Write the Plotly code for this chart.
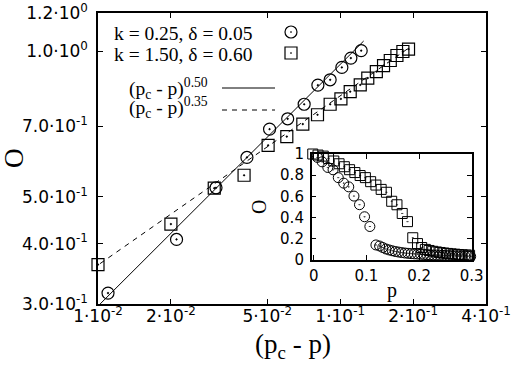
import plotly.graph_objects as go

# ---------------- data ----------------
# main plot: O versus (p_c - p)
circ_x = [0.0110, 0.0211, 0.0307, 0.0412, 0.0511, 0.0607, 0.0710, 0.0809, 0.0909, 0.1016, 0.1107, 0.1221]
circ_y = [0.316, 0.408, 0.522, 0.603, 0.690, 0.725, 0.777, 0.851, 0.873, 0.926, 0.968, 1.003]

sq_x = [0.0100, 0.0200, 0.0302, 0.0401, 0.0504, 0.0602, 0.0701, 0.0806, 0.0909, 0.1007,
        0.1100, 0.1210, 0.1300, 0.1410, 0.1510, 0.1610, 0.1715, 0.1815, 0.1915]
sq_y = [0.362, 0.439, 0.521, 0.554, 0.639, 0.666, 0.707, 0.739, 0.777, 0.797,
        0.825, 0.852, 0.880, 0.908, 0.934, 0.957, 0.980, 0.999, 1.010]

# fitted power laws (exponents from the legend)
fit1_amp, fit1_exp, fit1_range = 2.97, 0.50, [0.0102, 0.125]
fit2_amp, fit2_exp, fit2_range = 1.81, 0.35, [0.0102, 0.195]

# inset: O versus p
in_circ_p = [-0.0046, 0.0068, 0.0159, 0.0266, 0.0366, 0.0465, 0.0568, 0.0664, 0.0763, 0.0868, 0.0964, 0.1065,
             0.118, 0.125, 0.131, 0.137, 0.143, 0.149, 0.155, 0.161, 0.167, 0.173, 0.179, 0.185, 0.191,
             0.197, 0.203, 0.209, 0.215, 0.221, 0.227, 0.233, 0.239, 0.245, 0.251, 0.257, 0.263, 0.269,
             0.275, 0.281, 0.287, 0.293, 0.298]
in_circ_o = [1.0, 0.968, 0.926, 0.873, 0.851, 0.777, 0.725, 0.690, 0.603, 0.522, 0.408, 0.316,
             0.142, 0.132, 0.118, 0.104, 0.095, 0.087, 0.080, 0.075, 0.070, 0.066, 0.063, 0.060, 0.058,
             0.056, 0.054, 0.052, 0.050, 0.049, 0.047, 0.046, 0.045, 0.044, 0.042, 0.041, 0.040, 0.039,
             0.038, 0.037, 0.036, 0.035, 0.034]

in_sq_p = [-0.002, 0.008, 0.018, 0.028, 0.038, 0.048, 0.058, 0.068, 0.078, 0.088, 0.098, 0.108,
           0.118, 0.128, 0.138, 0.148, 0.158, 0.168, 0.178, 0.188, 0.197, 0.205, 0.212, 0.219,
           0.226, 0.233, 0.240, 0.247, 0.254, 0.261, 0.268, 0.275, 0.282, 0.289, 0.296]
in_sq_o = [1.0, 0.99, 0.980, 0.957, 0.934, 0.908, 0.880, 0.852, 0.825, 0.797, 0.777, 0.739,
           0.707, 0.666, 0.639, 0.554, 0.521, 0.439, 0.362, 0.210, 0.155, 0.118, 0.100, 0.090,
           0.082, 0.076, 0.071, 0.066, 0.062, 0.058, 0.055, 0.052, 0.049, 0.047, 0.045]

x_tickvals = [0.01, 0.02, 0.05, 0.1, 0.2, 0.4]
x_ticktext = ["1·10<sup>-2</sup>", "2·10<sup>-2</sup>", "5·10<sup>-2</sup>",
              "1·10<sup>-1</sup>", "2·10<sup>-1</sup>", "4·10<sup>-1</sup>"]
y_tickvals = [0.3, 0.4, 0.5, 0.7, 1.0, 1.2]
y_ticktext = ["3.0·10<sup>-1</sup>", "4.0·10<sup>-1</sup>", "5.0·10<sup>-1</sup>",
              "7.0·10<sup>-1</sup>", "1.0·10<sup>0</sup>", "1.2·10<sup>0</sup>"]

legend_labels = ["k = 0.25, δ = 0.05", "k = 1.50, δ = 0.60",
                 "(p<sub>c</sub> - p)<sup>0.50</sup>", "(p<sub>c</sub> - p)<sup>0.35</sup>"]

# ---------------- figure ----------------
SANS = "DejaVu Sans"
SERIF = "Liberation Serif"
W, H = 519, 368
L, R, T, B = 98, 33, 13, 64
PW, PH = W - L - R, H - T - B

def px(xp):
    return (xp - L) / PW

def py(yp):
    return (H - B - yp) / PH

fig = go.Figure()

mk_c = dict(symbol="circle-open-dot", size=12, color="black", line=dict(width=1.2, color="black"))
mk_s = dict(symbol="square-open-dot", size=12, color="black", line=dict(width=1.2, color="black"))

# fit lines
fig.add_trace(go.Scatter(x=fit1_range, y=[fit1_amp * v ** fit1_exp for v in fit1_range],
                         mode="lines", line=dict(color="black", width=1), showlegend=False))
fig.add_trace(go.Scatter(x=fit2_range, y=[fit2_amp * v ** fit2_exp for v in fit2_range],
                         mode="lines", line=dict(color="black", width=1, dash="5px,5px"), showlegend=False))
fig.add_trace(go.Scatter(x=circ_x, y=circ_y, mode="markers", marker=mk_c, cliponaxis=False, showlegend=False))
fig.add_trace(go.Scatter(x=sq_x, y=sq_y, mode="markers", marker=mk_s, cliponaxis=False, showlegend=False))

# inset
mk_ci = dict(mk_c, size=10, line=dict(width=1, color="black"))
mk_si = dict(mk_s, size=10, line=dict(width=1, color="black"))
fig.add_trace(go.Scatter(x=in_circ_p, y=in_circ_o, mode="markers", marker=mk_ci, cliponaxis=False,
                         xaxis="x2", yaxis="y2", showlegend=False))
fig.add_trace(go.Scatter(x=in_sq_p, y=in_sq_o, mode="markers", marker=mk_si, cliponaxis=False,
                         xaxis="x2", yaxis="y2", showlegend=False))

axis_common = dict(showline=True, linecolor="black", linewidth=1.5, mirror="ticks", ticks="inside",
                   ticklen=5, tickwidth=1, tickcolor="black", showgrid=False, zeroline=False,
                   automargin=False)

fig.update_layout(
    width=W, height=H, margin=dict(l=L, r=R, t=T, b=B),
    paper_bgcolor="white", plot_bgcolor="white",
    font=dict(family=SANS, size=17, color="black"),
    xaxis=dict(axis_common, type="log", range=[-2, -0.39794], tickvals=x_tickvals, ticktext=x_ticktext,
               tickfont=dict(family=SANS, size=17), ticklabelstandoff=-4, domain=[0, 1]),
    yaxis=dict(axis_common, type="log", range=[-0.52288, 0.07918], tickvals=y_tickvals, ticktext=y_ticktext,
               tickfont=dict(family=SANS, size=17), ticklabelstandoff=5, domain=[0, 1]),
    xaxis2=dict(axis_common, range=[-0.004, 0.3], tickvals=[0, 0.1, 0.2, 0.3], ticktext=["0", "0.1", "0.2", "0.3"],
                tickfont=dict(family=SANS, size=15), anchor="y2", domain=[px(311.7), px(471.7)],
                ticklabelstandoff=1),
    yaxis2=dict(axis_common, range=[0, 1.0], tickvals=[0, 0.2, 0.4, 0.6, 0.8, 1.0],
                ticktext=["0", "0.2", "0.4", "0.6", "0.8", "1"],
                tickfont=dict(family=SANS, size=15), anchor="x2", domain=[py(260), py(154)],
                ticklabelstandoff=3),
)

ann = []
# axis titles
ann.append(dict(text="(p<sub>c</sub> - p)", x=px(293), y=py(346), xref="paper", yref="paper",
                showarrow=False, font=dict(family=SERIF, size=27), xanchor="center", yanchor="middle"))
ann.append(dict(text="O", x=px(14), y=py(158), xref="paper", yref="paper", textangle=-90,
                showarrow=False, font=dict(family=SERIF, size=27), xanchor="center", yanchor="middle"))
ann.append(dict(text="O", x=px(259), y=py(207), xref="paper", yref="paper", textangle=-90,
                showarrow=False, font=dict(family=SERIF, size=20), xanchor="center", yanchor="middle"))
ann.append(dict(text="p", x=px(392), y=py(290), xref="paper", yref="paper",
                showarrow=False, font=dict(family=SERIF, size=20), xanchor="center", yanchor="middle"))
# legend texts
ann.append(dict(text=legend_labels[0], x=px(112), y=py(33.5), xref="paper", yref="paper", showarrow=False,
                font=dict(family=SERIF, size=19.5), xanchor="left", yanchor="middle"))
ann.append(dict(text=legend_labels[1], x=px(112), y=py(54), xref="paper", yref="paper", showarrow=False,
                font=dict(family=SERIF, size=19.5), xanchor="left", yanchor="middle"))
ann.append(dict(text=legend_labels[2], x=px(127), y=py(89), xref="paper", yref="paper", showarrow=False,
                font=dict(family=SERIF, size=19.5), xanchor="left", yanchor="middle"))
ann.append(dict(text=legend_labels[3], x=px(127), y=py(108), xref="paper", yref="paper", showarrow=False,
                font=dict(family=SERIF, size=19.5), xanchor="left", yanchor="middle"))
fig.update_layout(annotations=ann)

# legend key glyphs
shapes = []
def key(kind, cx, cy, r=6):
    shapes.append(dict(type=kind, xref="paper", yref="paper", xsizemode="pixel", ysizemode="pixel",
                       xanchor=px(cx), yanchor=py(cy), x0=-r, x1=r, y0=-r, y1=r,
                       line=dict(color="black", width=1.2), fillcolor="rgba(0,0,0,0)"))
    shapes.append(dict(type="circle", xref="paper", yref="paper", xsizemode="pixel", ysizemode="pixel",
                       xanchor=px(cx), yanchor=py(cy), x0=-0.6, x1=0.6, y0=-0.6, y1=0.6,
                       line=dict(color="black", width=0.5), fillcolor="black"))
key("circle", 291, 32)
key("rect", 291, 53)
shapes.append(dict(type="line", xref="paper", yref="paper", x0=px(222), x1=px(275), y0=py(88), y1=py(88),
                   line=dict(color="black", width=1)))
shapes.append(dict(type="line", xref="paper", yref="paper", x0=px(222), x1=px(275), y0=py(110), y1=py(110),
                   line=dict(color="black", width=1, dash="5px,5px")))
fig.update_layout(shapes=shapes)

fig.write_html("out.html", config={"displayModeBar": False},
               post_script="document.body.style.margin='0';document.body.style.padding='0';")
